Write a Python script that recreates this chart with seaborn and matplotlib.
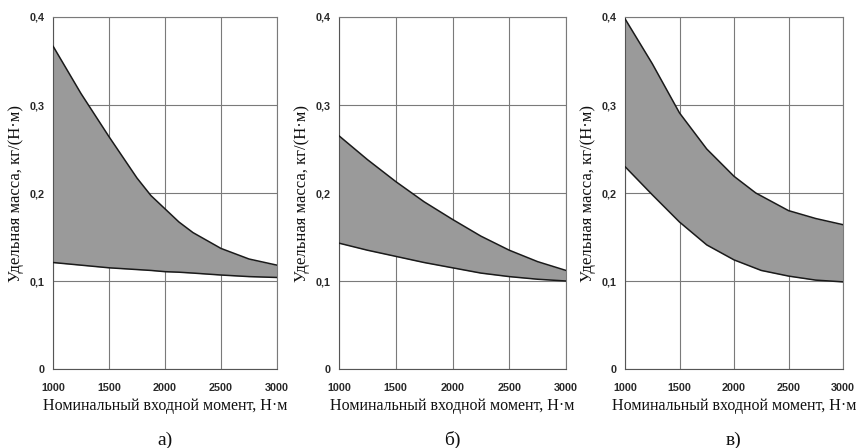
import numpy as np
import pandas as pd
import matplotlib
matplotlib.use('Agg')
import matplotlib.pyplot as plt
import seaborn as sns

# Номинальный входной момент, Н·м
torque_a = [1000, 1250, 1500, 1750, 1875, 2000, 2125, 2250, 2500, 2750, 3000]
upper_a = [0.367, 0.313, 0.264, 0.217, 0.197, 0.182, 0.167, 0.155, 0.137, 0.125, 0.118]
lower_a = [0.121, 0.118, 0.115, 0.113, 0.112, 0.1106, 0.110, 0.109, 0.1068, 0.105, 0.104]

torque_b = [1000, 1250, 1500, 1750, 2000, 2250, 2500, 2750, 3000]
upper_b = [0.265, 0.238, 0.213, 0.190, 0.170, 0.151, 0.135, 0.122, 0.112]
lower_b = [0.143, 0.135, 0.128, 0.121, 0.115, 0.109, 0.105, 0.102, 0.100]

torque_c = [1000, 1250, 1500, 1750, 2000, 2200, 2500, 2750, 3000]
upper_c = [0.398, 0.347, 0.291, 0.250, 0.219, 0.200, 0.180, 0.171, 0.164]
torque_c_low = [1000, 1250, 1500, 1750, 2000, 2250, 2500, 2750, 3000]
lower_c = [0.230, 0.198, 0.167, 0.141, 0.124, 0.112, 0.1056, 0.101, 0.099]

panel_names = ['а)', 'б)', 'в)']
x_ticks = [1000, 1500, 2000, 2500, 3000]
y_ticks = [0, 0.1, 0.2, 0.3, 0.4]
y_tick_labels = ['0', '0,1', '0,2', '0,3', '0,4']

sns.set_style('white')
serif = ['Liberation Serif', 'DejaVu Serif']
narrow = ['Liberation Sans Narrow', 'Liberation Sans', 'DejaVu Sans']

fig = plt.figure(figsize=(8.56, 4.48), dpi=100)
W, H = 856, 448
# axes boxes in pixels: left, right, top, bottom
boxes = [(53, 277, 17, 369), (339, 566, 17, 369), (625, 843, 17, 369)]
panels = [
    (torque_a, upper_a, torque_a, lower_a),
    (torque_b, upper_b, torque_b, lower_b),
    (torque_c, upper_c, torque_c_low, lower_c),
]

for (l, r, t, b), (xu, up, xl, lo), name in zip(boxes, panels, panel_names):
    ax = fig.add_axes([l / W, 1 - b / H, (r - l) / W, (b - t) / H])
    top = pd.DataFrame({'x': xu, 'y': up})
    bot = pd.DataFrame({'x': xl, 'y': lo})
    # shaded band between the curves on a common grid of the read points
    xs = sorted(set(xu) | set(xl))
    ax.fill_between(xs, np.interp(xs, xl, lo), np.interp(xs, xu, up),
                    color='#9a9a9a', lw=0, zorder=2)
    sns.lineplot(data=top, x='x', y='y', ax=ax, color='#1a1a1a', lw=1.1, zorder=3)
    sns.lineplot(data=bot, x='x', y='y', ax=ax, color='#1a1a1a', lw=1.1, zorder=3)
    ax.set_xlim(1000, 3000)
    ax.set_ylim(0, 0.4)
    ax.set_xticks(x_ticks)
    ax.set_yticks(y_ticks)
    ax.set_yticklabels(y_tick_labels)
    ax.grid(True, color='#7a7a7a', lw=0.8, zorder=1)
    ax.set_axisbelow(True)
    for s in ax.spines.values():
        s.set_color('#7a7a7a')
        s.set_linewidth(0.8)
    ax.spines['left'].set_color('#555555')
    ax.spines['bottom'].set_color('#555555')
    ax.tick_params(axis='x', length=0, pad=10, labelsize=7.8)
    ax.tick_params(axis='y', length=0, pad=6, labelsize=7.8)
    for lab in ax.get_xticklabels() + ax.get_yticklabels():
        lab.set_family(narrow)
        lab.set_fontweight('bold')
        lab.set_color('#2a2a2a')
    ax.set_xlabel('Номинальный входной момент, Н·м', family=serif, fontsize=11.5,
                  labelpad=4, color='#111111')
    ax.set_ylabel('Удельная масса, кг/(Н·м)', family=serif, fontsize=12,
                  labelpad=4, color='#111111')
    fig.text((l + r) / 2 / W, 1 - 440 / H, name, family=serif, fontsize=14,
             ha='center', va='center', color='#111111')

fig.savefig('out.png', dpi=100)
